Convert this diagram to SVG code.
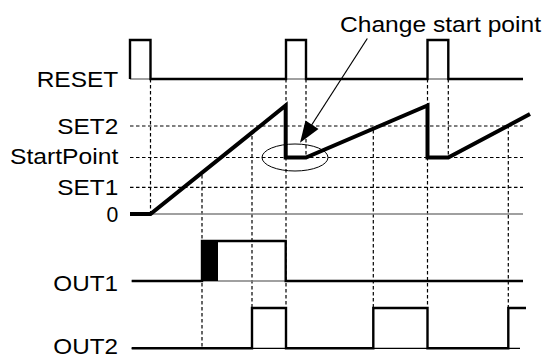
<svg xmlns="http://www.w3.org/2000/svg" width="543" height="355" viewBox="0 0 543 355">
<style>
.lbl{font-family:"Liberation Sans",Arial,sans-serif;font-size:22.5px;fill:#000}
.grid{stroke:#000;stroke-width:1.2;stroke-dasharray:3.5 2.5;fill:none}
.base{stroke:#808080;stroke-width:1.5;fill:none}
.sig{stroke:#000;stroke-width:2.4;fill:none;stroke-linejoin:miter}
.ramp{stroke:#000;stroke-width:4;fill:none;stroke-linejoin:miter}
</style>
<rect width="543" height="355" fill="#fff"/>
<g id="labels">
<text class="lbl" x="36.7" y="87.3" textLength="81.6" lengthAdjust="spacingAndGlyphs">RESET</text>
<text class="lbl" x="57.3" y="134" textLength="61" lengthAdjust="spacingAndGlyphs">SET2</text>
<text class="lbl" x="10" y="164" textLength="108.3" lengthAdjust="spacingAndGlyphs">StartPoint</text>
<text class="lbl" x="57.3" y="194.5" textLength="61" lengthAdjust="spacingAndGlyphs">SET1</text>
<text class="lbl" x="106.5" y="221.7" textLength="11.8" lengthAdjust="spacingAndGlyphs">0</text>
<text class="lbl" x="53.3" y="291" textLength="64.7" lengthAdjust="spacingAndGlyphs">OUT1</text>
<text class="lbl" x="53.3" y="353.5" textLength="64.7" lengthAdjust="spacingAndGlyphs">OUT2</text>
<text class="lbl" x="340" y="31.5" textLength="201" lengthAdjust="spacingAndGlyphs">Change start point</text>
</g>
<g id="grid">
<line class="grid" x1="130" y1="126" x2="523" y2="126"/>
<line class="grid" x1="130" y1="157.5" x2="523" y2="157.5"/>
<line class="grid" x1="130" y1="187.3" x2="523" y2="187.3"/>
<line class="grid" x1="150.5" y1="79" x2="150.5" y2="214"/>
<line class="grid" x1="202" y1="175" x2="202" y2="348"/>
<line class="grid" x1="252" y1="136" x2="252" y2="308"/>
<line class="grid" x1="286" y1="79" x2="286" y2="308"/>
<line class="grid" x1="306" y1="79" x2="306" y2="157.5"/>
<line class="grid" x1="373.3" y1="130" x2="373.3" y2="308"/>
<line class="grid" x1="427.5" y1="79" x2="427.5" y2="308"/>
<line class="grid" x1="448.3" y1="79" x2="448.3" y2="157.5"/>
<line class="grid" x1="508.3" y1="125" x2="508.3" y2="308"/>
</g>
<g id="reset">
<line class="base" x1="130" y1="79" x2="523" y2="79"/>
<path class="sig" d="M130,79 V40 H150.5 V79 H286 V40 H306 V79 H427.5 V40 H448.3 V79 H523"/>
</g>
<g id="value">
<line class="base" x1="150" y1="214" x2="523" y2="214"/>
<path class="ramp" d="M130,214 H150.5 L285.7,105.5 V157.5 H306 L427.5,105.5 V157.5 H448.3 L530,114"/>
</g>
<g id="out1">
<line class="base" x1="131.7" y1="281" x2="523" y2="281"/>
<rect x="202" y="241" width="16" height="40" fill="#000"/>
<path class="sig" d="M131.7,281 H202 V241 H285.7 V281 H523"/>
</g>
<g id="out2">
<line x1="131.7" y1="348.3" x2="520" y2="348.3" stroke="#000" stroke-width="1.2"/>
<path class="sig" d="M131.7,348.3 H252 V308 H286 V348.3 H373.3 V308 H427.5 V348.3 H508.3 V308 H526"/>
</g>
<g id="connectors">
<ellipse cx="295" cy="157.5" rx="33" ry="13.5" fill="none" stroke="#000" stroke-width="1"/>
<line x1="367.3" y1="38.5" x2="311" y2="126" stroke="#000" stroke-width="1.2"/>
<polygon points="300,142.7 305.5,120.5 318.5,129" fill="#000"/>
</g>
</svg>
